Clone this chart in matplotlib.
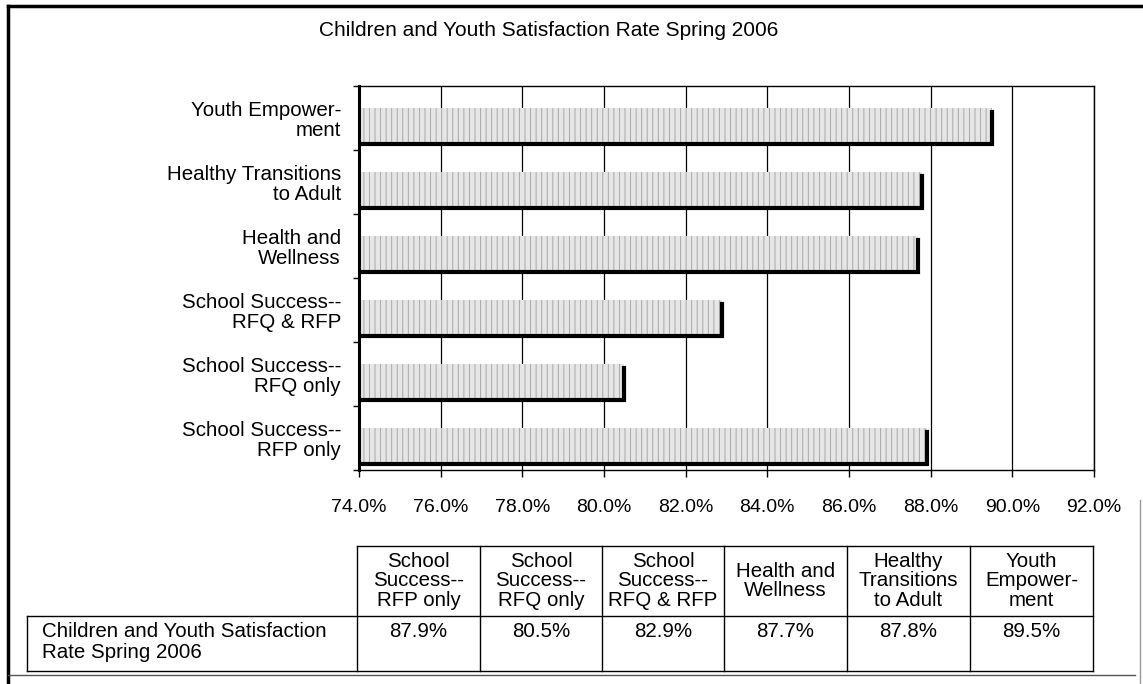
import matplotlib
matplotlib.use("Agg")
import matplotlib.pyplot as plt
from matplotlib.lines import Line2D

W, H = 1143, 684

# categories listed bottom-to-top as on the chart
categories = [
    "School Success--\nRFP only",
    "School Success--\nRFQ only",
    "School Success--\nRFQ & RFP",
    "Health and\nWellness",
    "Healthy Transitions\nto Adult",
    "Youth Empower-\nment",
]
rates = [87.9, 80.5, 82.9, 87.7, 87.8, 89.5]
x_ticks = [74, 76, 78, 80, 82, 84, 86, 88, 90, 92]

table_headers = [
    "School\nSuccess--\nRFP only",
    "School\nSuccess--\nRFQ only",
    "School\nSuccess--\nRFQ & RFP",
    "Health and\nWellness",
    "Healthy\nTransitions\nto Adult",
    "Youth\nEmpower-\nment",
]
row_label = "Children and Youth Satisfaction\nRate Spring 2006"
title = "Children and Youth Satisfaction Rate Spring 2006"

plt.rcParams["font.family"] = ["Liberation Sans", "DejaVu Sans"]
plt.rcParams["hatch.linewidth"] = 0.7

FS = 14.8


def fx(x):
    return x / W


def fy(y):
    return 1 - y / H


fig = plt.figure(figsize=(W / 100, H / 100), dpi=100)

# plot area in pixel terms
L, R, T, B = 359, 1094, 86, 470
ax = fig.add_axes([fx(L), fy(B), (R - L) / W, (B - T) / H])

base = x_ticks[0]
ypos = list(range(len(categories)))
bar_h = 0.56
off = -0.12
for y, v in zip(ypos, rates):
    ax.barh(y + off, v - base, left=base, height=bar_h, color="#e6e6e6",
            edgecolor="#a8a8a8", hatch="|||", linewidth=0, zorder=2)
    # dark shadow edge along the bottom and end of each bar
    yb = y + off - bar_h / 2
    yt = y + off + bar_h / 2
    ax.plot([base, v, v], [yb, yb, yt - 0.06], color="black", lw=3,
            solid_joinstyle="miter", zorder=3)

ax.set_xlim(x_ticks[0], x_ticks[-1])
ax.set_ylim(-0.5, len(categories) - 0.5)
ax.set_xticks(x_ticks)
ax.set_xticklabels([f"{t:.1f}%" for t in x_ticks], fontsize=14)
ax.set_yticks(ypos)
ax.set_yticklabels(categories, fontsize=FS, ha="right", linespacing=1.1)
ax.set_yticks([i - 0.5 for i in range(len(categories) + 1)], minor=True)
ax.tick_params(axis="y", which="major", length=0, pad=13)
ax.tick_params(axis="y", which="minor", length=4, direction="out", width=1)
ax.tick_params(axis="x", length=5, direction="out", width=1, pad=16)
ax.grid(axis="x", color="black", linewidth=0.9, zorder=1)
ax.set_axisbelow(True)
for side in ["top", "right", "bottom"]:
    ax.spines[side].set_linewidth(1.0)
ax.spines["left"].set_linewidth(2.2)

fig.text(fx(549), fy(30), title, ha="center", va="center", fontsize=15)

# data table under the chart
col_edges = [357, 480, 602, 724, 847, 970, 1093]
lab_left = 27
t_top, t_mid, t_bot = 546, 616, 671


def hline(x0, x1, y):
    fig.add_artist(Line2D([fx(x0), fx(x1)], [fy(y), fy(y)], color="black", lw=1))


def vline(x, y0, y1):
    fig.add_artist(Line2D([fx(x), fx(x)], [fy(y0), fy(y1)], color="black", lw=1))


hline(col_edges[0], col_edges[-1], t_top)
hline(lab_left, col_edges[-1], t_mid)
hline(lab_left, col_edges[-1], t_bot)
vline(lab_left, t_mid, t_bot)
for x in col_edges:
    vline(x, t_top, t_bot)

for i, (hdr, v) in enumerate(zip(table_headers, rates)):
    cx = (col_edges[i] + col_edges[i + 1]) / 2
    fig.text(fx(cx), fy((t_top + t_mid) / 2), hdr, ha="center", va="center",
             fontsize=FS, linespacing=1.05)
    fig.text(fx(cx), fy(622), f"{v:.1f}%", ha="center", va="top", fontsize=FS)

fig.text(fx(42), fy(622), row_label, ha="left", va="top", fontsize=FS,
         linespacing=1.15)

# outer frame
fig.add_artist(Line2D([fx(8), fx(8)], [fy(6), 0], color="black", lw=2.5))
fig.add_artist(Line2D([fx(8), 1], [fy(6), fy(6)], color="black", lw=2.5))
fig.add_artist(Line2D([fx(8), fx(1135)], [fy(675), fy(675)], color="#555555", lw=1))
fig.add_artist(Line2D([fx(1140), fx(1140)], [fy(500), 0], color="#999999", lw=1))

fig.savefig("out.png", dpi=100)
